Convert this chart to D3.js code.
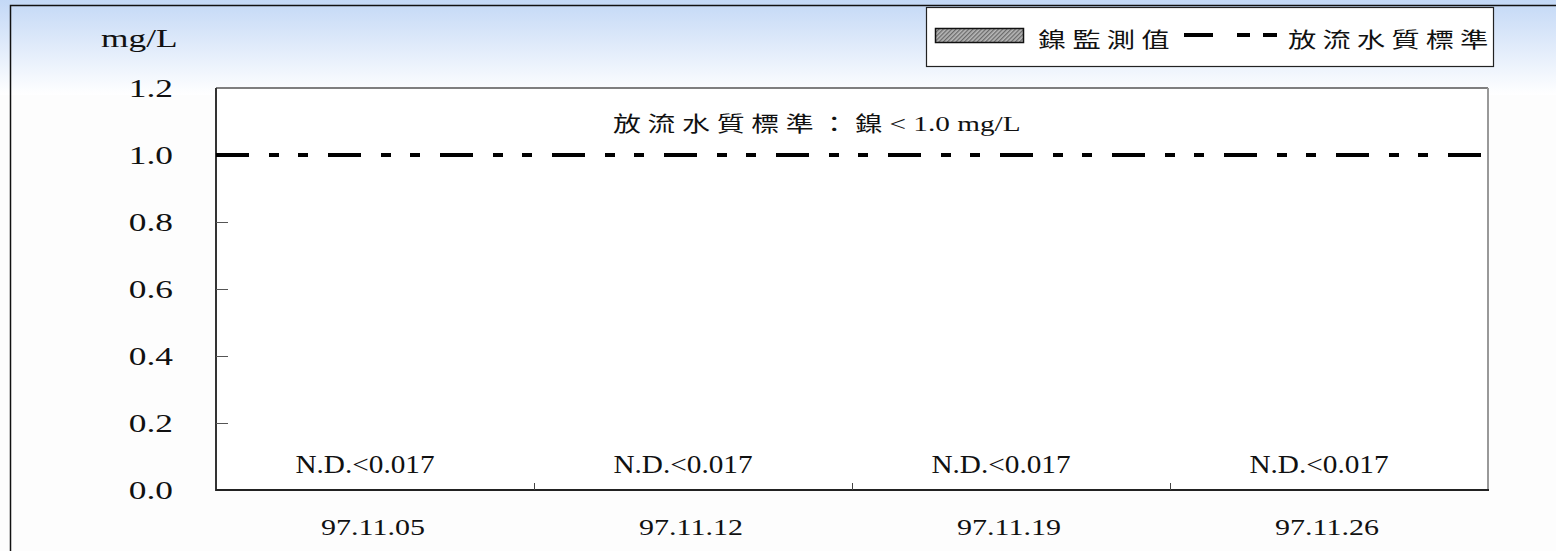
<html>
<head>
<script src="https://cdnjs.cloudflare.com/ajax/libs/d3/7.8.5/d3.min.js"></script>
<style>
  body { margin: 0; background: #fff; }
  svg { display: block; }
</style>
</head>
<body>
<script>
// data (all values below detection limit)
const dates = ['97.11.05', '97.11.12', '97.11.19', '97.11.26'];
const nickel = [0, 0, 0, 0];
const valueLabels = ['N.D.<0.017', 'N.D.<0.017', 'N.D.<0.017', 'N.D.<0.017'];
const standard = 1.0;
const yTicks = [0, 0.2, 0.4, 0.6, 0.8, 1.0, 1.2];

const width = 1556, height = 551;
const plot = { left: 216, right: 1488, top: 88, bottom: 490 };
const STRETCH = 1.33; // the original is stretched sideways
const serif = '"Liberation Serif", "Times New Roman", serif';
const cjk = '"Noto Sans CJK TC", "Noto Sans CJK SC", sans-serif';

const svg = d3.select('body').append('svg')
    .attr('width', width)
    .attr('height', height);

const defs = svg.append('defs');
const grad = defs.append('linearGradient')
    .attr('id', 'bg').attr('x1', 0).attr('y1', 0).attr('x2', 0).attr('y2', 1);
grad.append('stop').attr('offset', '0%').attr('stop-color', '#c3d8f6');
grad.append('stop').attr('offset', '100%').attr('stop-color', '#ffffff');

const hatch = defs.append('pattern')
    .attr('id', 'hatch').attr('width', 3).attr('height', 3)
    .attr('patternUnits', 'userSpaceOnUse')
    .attr('patternTransform', 'rotate(45)');
hatch.append('rect').attr('width', 3).attr('height', 3).attr('fill', '#b8b8b8');
hatch.append('rect').attr('width', 1.3).attr('height', 3).attr('fill', '#6a6a6a');

// background
svg.append('rect').attr('width', width).attr('height', height).attr('fill', '#fdfdfd');
svg.append('rect').attr('width', width).attr('height', 95).attr('fill', 'url(#bg)');

// outer frame
svg.append('path')
    .attr('d', `M10.5,${height}V5.5H${width}`)
    .attr('fill', 'none').attr('stroke', '#111').attr('stroke-width', 1.5);

// stretched text helper
function label(g, x, y, txt, opts) {
    const o = Object.assign({ size: 24, family: serif, anchor: 'middle', sx: STRETCH, spacing: 0 }, opts);
    return g.append('g')
        .attr('transform', `translate(${x},${y}) scale(${o.sx},1)`)
        .append('text')
        .attr('text-anchor', o.anchor)
        .attr('font-family', o.family)
        .attr('font-size', o.size)
        .attr('letter-spacing', o.spacing)
        .attr('fill', '#111')
        .text(txt);
}

const x = d3.scaleBand().domain(dates).range([plot.left, plot.right]).padding(0);
const y = d3.scaleLinear().domain([0, 1.2]).range([plot.bottom, plot.top]);

// plot area
svg.append('rect')
    .attr('x', plot.left).attr('y', plot.top)
    .attr('width', plot.right - plot.left).attr('height', plot.bottom - plot.top)
    .attr('fill', '#fff');

// bars (zero height: not detected)
svg.selectAll('.bar')
    .data(nickel)
    .enter().append('rect')
    .attr('class', 'bar')
    .attr('x', (d, i) => x(dates[i]) + x.bandwidth() * 0.25)
    .attr('width', x.bandwidth() * 0.5)
    .attr('y', d => y(d))
    .attr('height', d => y(0) - y(d))
    .attr('fill', 'url(#hatch)');

// borders
svg.append('line').attr('x1', plot.left).attr('x2', plot.right).attr('y1', plot.top).attr('y2', plot.top)
    .attr('stroke', '#555').attr('stroke-width', 1.5);
svg.append('line').attr('x1', plot.right).attr('x2', plot.right).attr('y1', plot.top).attr('y2', plot.bottom)
    .attr('stroke', '#999').attr('stroke-width', 2);
svg.append('line').attr('x1', plot.left).attr('x2', plot.left).attr('y1', plot.top).attr('y2', plot.bottom + 1)
    .attr('stroke', '#333').attr('stroke-width', 2);
svg.append('line').attr('x1', plot.left).attr('x2', plot.right + 1).attr('y1', plot.bottom).attr('y2', plot.bottom)
    .attr('stroke', '#222').attr('stroke-width', 2);

// y ticks (inward) and labels
svg.selectAll('.ytick')
    .data(yTicks.filter(t => t > 0 && t < 1.2))
    .enter().append('line')
    .attr('x1', plot.left).attr('x2', plot.left + 12)
    .attr('y1', d => Math.round(y(d)) + 0.5).attr('y2', d => Math.round(y(d)) + 0.5)
    .attr('stroke', '#555').attr('stroke-width', 1);

const ylab = svg.append('g');
yTicks.forEach(t => label(ylab, 173, y(t) + 9, d3.format('.1f')(t), { size: 26, anchor: 'end', sx: 1.36 }));
label(ylab, 101, 47, 'mg/L', { size: 26, anchor: 'start', sx: 1.36 });

// x ticks between categories (inward)
svg.selectAll('.xtick')
    .data(dates.slice(1))
    .enter().append('line')
    .attr('x1', d => Math.round(x(d)) + 0.5).attr('x2', d => Math.round(x(d)) + 0.5)
    .attr('y1', plot.bottom).attr('y2', plot.bottom - 7)
    .attr('stroke', '#444').attr('stroke-width', 1);

const xlab = svg.append('g');
dates.forEach(d => label(xlab, x(d) + x.bandwidth() / 2 - 2, 535, d, { size: 24, sx: 1.25 }));

// value labels
const vlab = svg.append('g');
valueLabels.forEach((t, i) => label(vlab, x(dates[i]) + x.bandwidth() / 2 - 10, y(nickel[i]) - 17, t, { size: 25, sx: 1.17 }));

// standard line
svg.append('line')
    .attr('x1', plot.left).attr('x2', plot.right + 2)
    .attr('y1', y(standard)).attr('y2', y(standard))
    .attr('stroke', '#000').attr('stroke-width', 4)
    .attr('stroke-dasharray', '33 20 10 19 10 20');

// standard annotation
const ann = svg.append('g').attr('transform', `translate(613,131) scale(${STRETCH},1)`)
    .append('text').attr('fill', '#111');
ann.append('tspan').attr('font-family', cjk).attr('font-size', 21).attr('letter-spacing', 5)
    .text('放流水質標準：鎳');
ann.append('tspan').attr('font-family', serif).attr('font-size', 22)
    .text('< 1.0 mg/L');

// legend
const leg = svg.append('g');
leg.append('rect')
    .attr('x', 926.5).attr('y', 7.5).attr('width', 567).attr('height', 59)
    .attr('fill', '#fff').attr('stroke', '#222').attr('stroke-width', 1.2);
leg.append('rect')
    .attr('x', 935.5).attr('y', 28.5).attr('width', 88).attr('height', 14)
    .attr('fill', 'url(#hatch)').attr('stroke', '#111').attr('stroke-width', 1.5);
label(leg, 1038, 47, '鎳監測值', { family: cjk, size: 21, anchor: 'start', spacing: 4.5, sx: 1.35 });
leg.append('line')
    .attr('x1', 1184).attr('x2', 1277).attr('y1', 35).attr('y2', 35)
    .attr('stroke', '#000').attr('stroke-width', 4)
    .attr('stroke-dasharray', '29 24 13 13 14 100');
label(leg, 1288, 47, '放流水質標準', { family: cjk, size: 21, anchor: 'start', spacing: 4.5, sx: 1.35 });
</script>
</body>
</html>
